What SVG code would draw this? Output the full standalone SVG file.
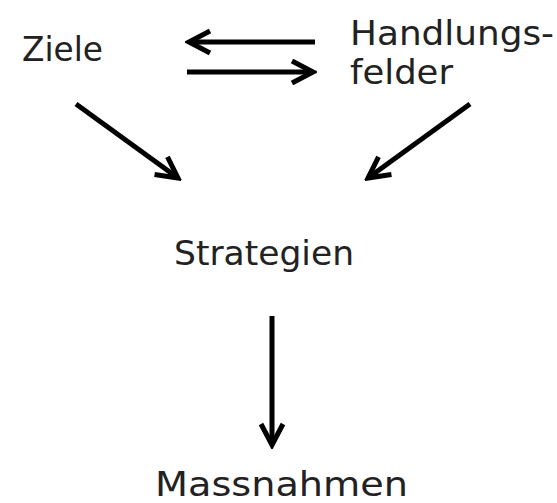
<svg xmlns="http://www.w3.org/2000/svg" width="557" height="503" viewBox="0 0 557 503">
<style>
.t{font-family:"DejaVu Sans","Noto Sans",sans-serif;font-size:34px;fill:#222}
.c{stroke:#000;stroke-width:5;fill:none}
</style>
<defs>
<marker id="ah" markerUnits="userSpaceOnUse" viewBox="-26 -15 30 30" refX="0" refY="0" markerWidth="30" markerHeight="30" orient="auto">
<path d="M-21,-11 L0,0 L-21,11" stroke="#000" stroke-width="5" fill="none" stroke-linejoin="miter"/>
</marker>
</defs>
<rect width="557" height="503" fill="#fff"/>
<g id="ziele"><text class="t" x="22" y="61" textLength="81" lengthAdjust="spacingAndGlyphs">Ziele</text></g>
<g id="handlungsfelder"><text class="t" x="350" y="45" textLength="204" lengthAdjust="spacingAndGlyphs">Handlungs-</text><text class="t" x="350" y="84" textLength="103" lengthAdjust="spacingAndGlyphs">felder</text></g>
<g id="strategien"><text class="t" x="174" y="265" textLength="180" lengthAdjust="spacingAndGlyphs">Strategien</text></g>
<g id="massnahmen"><text class="t" x="155" y="496" textLength="253" lengthAdjust="spacingAndGlyphs">Massnahmen</text></g>
<g id="connectors" class="c">
<line x1="315" y1="42" x2="189" y2="42" marker-end="url(#ah)"/>
<line x1="187" y1="72" x2="313" y2="72" marker-end="url(#ah)"/>
<line x1="76" y1="104" x2="178" y2="178" marker-end="url(#ah)"/>
<line x1="470" y1="104" x2="368" y2="178" marker-end="url(#ah)"/>
<line x1="272" y1="316" x2="272" y2="445" marker-end="url(#ah)"/>
</g>
</svg>
